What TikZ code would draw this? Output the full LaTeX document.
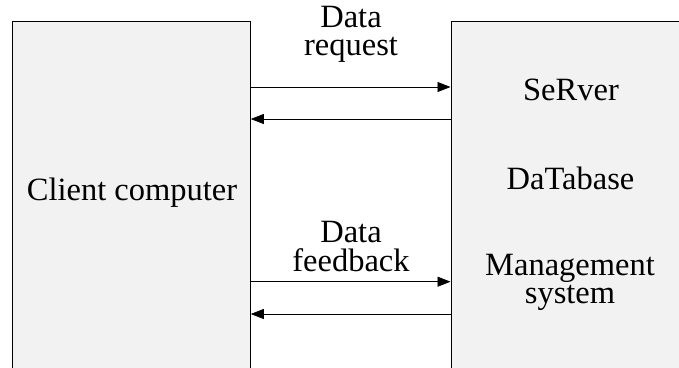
\documentclass[tikz,border=0pt]{standalone}
\usepackage{fontspec}
\setmainfont{Liberation Serif}
\usetikzlibrary{arrows.meta}
\definecolor{boxgray}{HTML}{F2F2F2}
\begin{document}
\begin{tikzpicture}[x=1pt,y=-1pt,
  panel/.style={draw=black, line width=0.8pt, fill=boxgray, inner sep=0pt,
                anchor=north west, minimum height=380pt},
  lbl/.style={font=\fontsize{32.5}{28.5}\selectfont, align=center, inner sep=0pt, anchor=base},
  flow/.style={line width=0.7pt, -{Triangle[length=13pt,width=10pt]}}]
  \useasboundingbox (0,0) rectangle (679,367);
  \clip (0,0) rectangle (679,367);

  % the two systems
  \node[panel, minimum width=238pt] (client) at (12,20.5) {};
  \node[panel, minimum width=260pt] (server) at (450.5,20.5) {};

  % texts (base anchor = baseline of the last line)
  \node[lbl] (clientname) at (132,200.5) {Client computer};
  \node[lbl] (srv) at (571,100) {SeRver};
  \node[lbl] (db) at (570.5,189.3) {DaTabase};
  \node[lbl] (mgmt) at (570,303.5) {Management\\system};
  \node[lbl] (req) at (351,55.5) {Data\\request};
  \node[lbl] (fb) at (351,271) {Data\\feedback};

  % arrow levels
  \coordinate (r1) at (0,87);
  \coordinate (r2) at (0,119);
  \coordinate (r3) at (0,281.7);
  \coordinate (r4) at (0,314);

  \draw[flow] (client.east |- r1) -- (server.west |- r1);
  \draw[flow] (server.west |- r2) -- (client.east |- r2);
  \draw[flow] (client.east |- r3) -- (server.west |- r3);
  \draw[flow] (server.west |- r4) -- (client.east |- r4);
\end{tikzpicture}
\end{document}
